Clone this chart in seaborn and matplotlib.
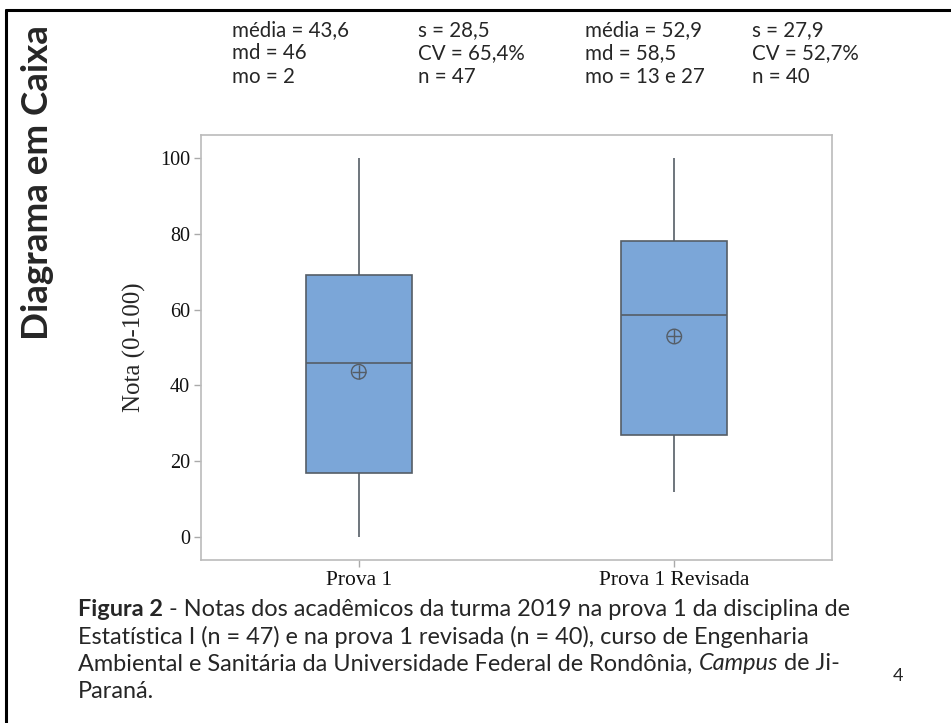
import matplotlib
matplotlib.use("Agg")
import matplotlib.pyplot as plt
import seaborn as sns
import pandas as pd
from matplotlib.lines import Line2D

# ---- data (five-number summaries) ----
categories = ["Prova 1", "Prova 1 Revisada"]
prova1_summary = [0, 17, 46, 69, 100]        # min, Q1, median, Q3, max
revisada_summary = [12, 27, 58.5, 78, 100]
means = [43.6, 52.9]
yticks = [0, 20, 40, 60, 80, 100]

stats_g1 = [["média = 43,6", "md = 46", "mo = 2"], ["s = 28,5", "CV = 65,4%", "n = 47"]]
stats_g2 = [["média = 52,9", "md = 58,5", "mo = 13 e 27"], ["s = 27,9", "CV = 52,7%", "n = 40"]]

df = pd.DataFrame({
    "prova": [categories[0]] * len(prova1_summary) + [categories[1]] * len(revisada_summary),
    "nota": prova1_summary + revisada_summary,
})
mean_df = pd.DataFrame({"prova": categories, "media": means})

sns.set_style("white")
W, H = 951, 723
fig = plt.figure(figsize=(W / 100, H / 100), dpi=100)
ax = fig.add_axes([201 / W, 1 - 560 / H, (832 - 201) / W, (560 - 135) / H])

box_fill = "#7BA6D8"
edge = "#555D66"
sns.boxplot(data=df, x="prova", y="nota", ax=ax, whis=(0, 100), width=0.335,
            color=box_fill, saturation=1, linecolor=edge, linewidth=1.2,
            showcaps=False, order=categories)
sns.scatterplot(data=mean_df, x="prova", y="media", ax=ax, marker="o", s=110,
                facecolor="none", edgecolor=edge, linewidth=1.0, zorder=5)
sns.scatterplot(data=mean_df, x="prova", y="media", ax=ax, marker="+", s=110,
                color=edge, linewidth=1.0, zorder=5)

ax.set_xlim(-0.5, 1.5)
ax.set_ylim(-6, 106)
ax.set_yticks(yticks)
ax.set_xlabel("")
ax.set_ylabel("Nota (0-100)", fontfamily="Liberation Serif", fontsize=18, labelpad=10)
for lab in ax.get_yticklabels():
    lab.set_fontfamily("Liberation Serif")
    lab.set_fontsize(14.5)
    lab.set_color("#111111")
for lab in ax.get_xticklabels():
    lab.set_fontfamily("Liberation Serif")
    lab.set_fontsize(15.5)
    lab.set_color("#111111")
ax.tick_params(axis="both", which="major", direction="out", length=5, width=1,
               color="#AAAAAA", pad=3, left=True, bottom=True)
for sp in ax.spines.values():
    sp.set_color("#BBBBBB")
    sp.set_linewidth(1.2)

def fy(y):
    return 1 - y / H

# slide frame
fig.add_artist(Line2D([6 / W, 6 / W], [0, fy(10)], color="black", lw=2.2))
fig.add_artist(Line2D([6 / W, 1], [fy(10), fy(10)], color="black", lw=2.2))

# vertical title
fig.text(38 / W, fy(183), "Diagrama em Caixa", rotation=90, ha="center", va="center",
         fontfamily="Lato", fontweight="bold", fontsize=26.5)

# summary statistics
sfont = dict(fontfamily="Lato", fontsize=14.8, va="center", ha="left")
rows_y = [30, 53, 77]
for x0, col in zip([232, 418], stats_g1):
    for y0, t in zip(rows_y, col):
        fig.text(x0 / W, fy(y0), t, **sfont)
for x0, col in zip([585, 752], stats_g2):
    for y0, t in zip(rows_y, col):
        fig.text(x0 / W, fy(y0), t, **sfont)

# caption with mixed styles
cap_fs = 16.9
fig.canvas.draw()
renderer = fig.canvas.get_renderer()

def width_of(s, **kw):
    t = fig.text(0, 0, s, fontfamily="Lato", fontsize=cap_fs, **kw)
    w = t.get_window_extent(renderer).width
    t.remove()
    return w

space_w = width_of("a a") - width_of("aa")

def runs(x, y, parts):
    for i, (s, kw) in enumerate(parts):
        t = fig.text(x / W, fy(y), s, fontfamily="Lato", fontsize=cap_fs,
                     va="center", ha="left", **kw)
        x += t.get_window_extent(renderer).width
        if i < len(parts) - 1:
            x += space_w

runs(78, 609, [("Figura 2", dict(fontweight="bold")),
               ("- Notas dos acadêmicos da turma 2019 na prova 1 da disciplina de", {})])
runs(78, 637, [("Estatística I (n = 47) e na prova 1 revisada (n = 40), curso de Engenharia", {})])
runs(78, 664, [("Ambiental e Sanitária da Universidade Federal de Rondônia,", {}),
               ("Campus", dict(fontstyle="italic")),
               ("de Ji-", {})])
runs(78, 691, [("Paraná.", {})])
fig.text(893 / W, fy(676), "4", fontfamily="Lato", fontsize=13, va="center", ha="left")

fig.savefig("out.png", dpi=100)
